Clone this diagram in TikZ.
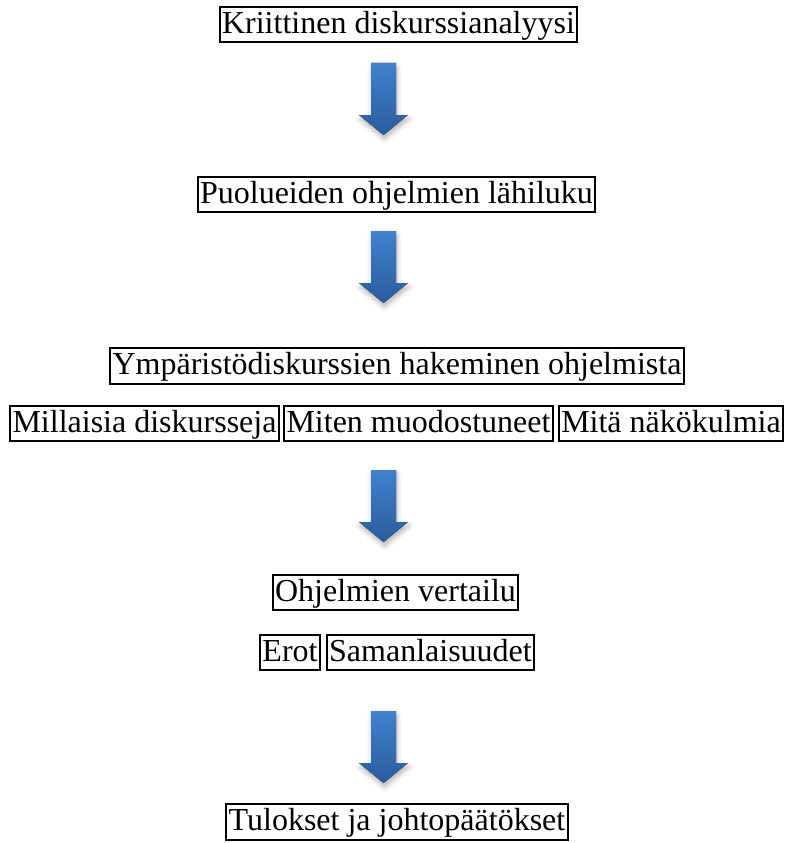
\documentclass[tikz,border=0pt]{standalone}
\usepackage{fontspec}
\setmainfont{Liberation Serif}
\usetikzlibrary{shadows.blur}
\tikzset{
  box/.style={draw, line width=2pt, inner xsep=2.5pt, inner ysep=1.5pt,
    text height=25pt, text depth=7.5pt, font=\fontsize{32}{38}\selectfont},
  blockarrow/.style={top color={rgb,255:red,64;green,130;blue,206},
    bottom color={rgb,255:red,42;green,92;blue,156}, draw=none,
    blur shadow={shadow xshift=1pt, shadow yshift=-4pt,
      shadow blur radius=5pt, shadow opacity=30}}
}
\begin{document}
\begin{tikzpicture}[x=1pt, y=-1pt]
\useasboundingbox (0,0) rectangle (785,843);

\node[box] (krit) at (398.5,24.5) {Kriittinen diskurssianalyysi};
\node[box] (lahi) at (396.5,194.5) {Puolueiden ohjelmien lähiluku};
\node[box] (haku) at (397,366) {Ympäristödiskurssien hakeminen ohjelmista};
\node[box] (mill) at (144.5,423.5) {Millaisia diskursseja};
\node[box] (mite) at (418.5,423.5) {Miten muodostuneet};
\node[box] (mita) at (671,423.5) {Mitä näkökulmia};
\node[box] (vert) at (395.5,592.5) {Ohjelmien vertailu};
\node[box] (erot) at (290,652.5) {Erot};
\node[box] (sama) at (430.5,652.5) {Samanlaisuudet};
\node[box] (tulo) at (397,822) {Tulokset ja johtopäätökset};

\fill[blockarrow, shift={(383.5,63)}] (-12.5,0) -- (12.5,0) -- (12.5,52) -- (24.5,52) -- (0,72) -- (-24.5,52) -- (-12.5,52) -- cycle;
\fill[blockarrow, shift={(383.5,231)}] (-12.5,0) -- (12.5,0) -- (12.5,52) -- (24.5,52) -- (0,72) -- (-24.5,52) -- (-12.5,52) -- cycle;
\fill[blockarrow, shift={(383.5,470)}] (-12.5,0) -- (12.5,0) -- (12.5,52) -- (24.5,52) -- (0,72) -- (-24.5,52) -- (-12.5,52) -- cycle;
\fill[blockarrow, shift={(383.5,711)}] (-12.5,0) -- (12.5,0) -- (12.5,52) -- (24.5,52) -- (0,72) -- (-24.5,52) -- (-12.5,52) -- cycle;
\end{tikzpicture}
\end{document}
